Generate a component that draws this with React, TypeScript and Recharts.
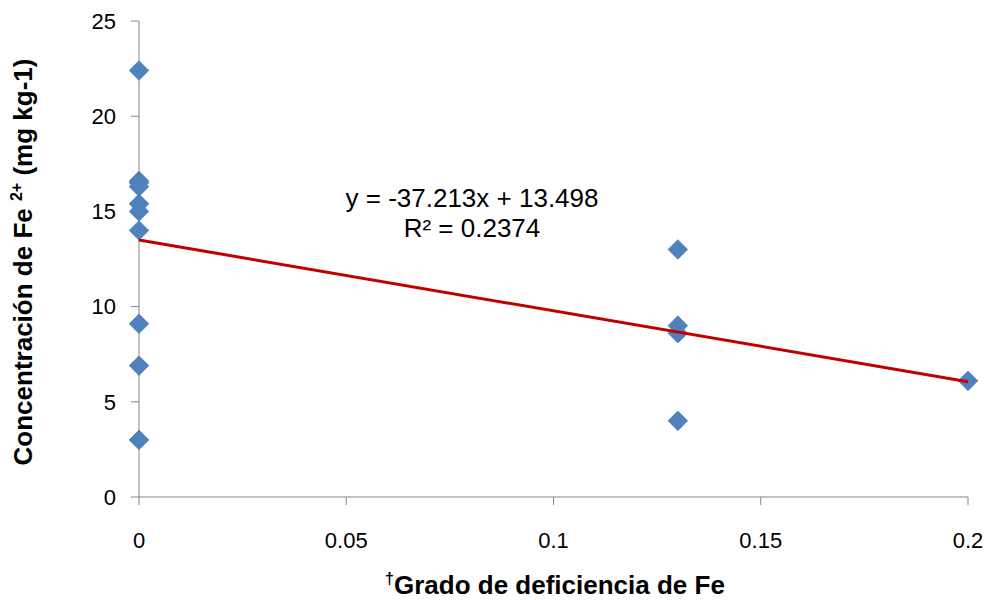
import { ComposedChart, Scatter, XAxis, YAxis } from 'recharts';

// Grado de deficiencia de Fe (x) vs concentración de Fe2+ (y)
const deficiencyLevels = [0, 0, 0, 0, 0, 0, 0, 0, 0, 0, 0.13, 0.13, 0.13, 0.13, 0.2];
const ironConcentration = [22.4, 16.6, 16.5, 16.3, 15.4, 15.0, 14.0, 9.1, 6.9, 3.0, 13.0, 9.0, 8.6, 4.0, 6.1];

const xTicks = [0, 0.05, 0.1, 0.15, 0.2];
const yTicks = [0, 5, 10, 15, 20, 25];

// linear trendline as printed on the chart
const trendSlope = -37.213;
const trendIntercept = 13.498;
const trendRange = [0, 0.2];

const AXIS_GRAY = '#868686';
const MARKER_BLUE = '#4F81BD';
const TREND_RED = '#C00000';
const FONT = '"Liberation Sans", Arial, sans-serif';

const points = deficiencyLevels.map((x, i) => ({ x, y: ironConcentration[i] }));
const trendPoints = trendRange.map((x) => ({ x, y: trendIntercept + trendSlope * x }));

function Diamond(props: { cx?: number; cy?: number }) {
  const { cx, cy } = props;
  if (cx == null || cy == null) {
    return <g />;
  }
  const r = 9.8;
  return (
    <path
      d={`M${cx},${cy - r}L${cx + r},${cy}L${cx},${cy + r}L${cx - r},${cy}Z`}
      fill={MARKER_BLUE}
      stroke="#4A7EBB"
      strokeWidth={0.75}
    />
  );
}

const tickStyle = { fill: '#000', fontSize: 22, fontFamily: FONT };

export default function App() {
  return (
    <div style={{ position: 'absolute', left: 0, top: 0, width: 989, height: 600, background: '#fff' }}>
      <ComposedChart width={989} height={600} margin={{ top: 21, right: 21, bottom: 0, left: 0 }}>
        <XAxis
          type="number"
          dataKey="x"
          domain={[0, 0.2]}
          ticks={xTicks}
          height={103}
          tickSize={8}
          tickMargin={27}
          stroke={AXIS_GRAY}
          tick={tickStyle}
          axisLine={{ stroke: AXIS_GRAY }}
          tickLine={{ stroke: AXIS_GRAY }}
        />
        <YAxis
          type="number"
          dataKey="y"
          domain={[0, 25]}
          ticks={yTicks}
          width={139}
          tickSize={8}
          tickMargin={15}
          stroke={AXIS_GRAY}
          tick={tickStyle}
          axisLine={{ stroke: AXIS_GRAY }}
          tickLine={{ stroke: AXIS_GRAY }}
        />
        <Scatter data={points} shape={<Diamond />} isAnimationActive={false} />
        <Scatter
          data={trendPoints}
          line={{ stroke: TREND_RED, strokeWidth: 3 }}
          shape={() => <g />}
          isAnimationActive={false}
        />
      </ComposedChart>
      <svg
        width={989}
        height={600}
        style={{ position: 'absolute', left: 0, top: 0, pointerEvents: 'none' }}
        fontFamily={FONT}
      >
        <text x={472} y={207} textAnchor="middle" fontSize={26} fill="#000">
          y = -37.213x + 13.498
        </text>
        <text x={472} y={237} textAnchor="middle" fontSize={26} fill="#000">
          R² = 0.2374
        </text>
        <text x={555} y={594} textAnchor="middle" fontSize={26} fontWeight="bold" fill="#000">
          <tspan fontSize={16} dy={-10}>†</tspan>
          <tspan dy={10}>Grado de deficiencia de Fe</tspan>
        </text>
        <text
          x={32}
          y={262}
          transform="rotate(-90, 32, 262)"
          textAnchor="middle"
          fontSize={26}
          fontWeight="bold"
          fill="#000"
        >
          Concentración de Fe <tspan fontSize={16} dy={-10}>2+</tspan>
          <tspan dy={10}> (mg kg-1)</tspan>
        </text>
      </svg>
    </div>
  );
}
